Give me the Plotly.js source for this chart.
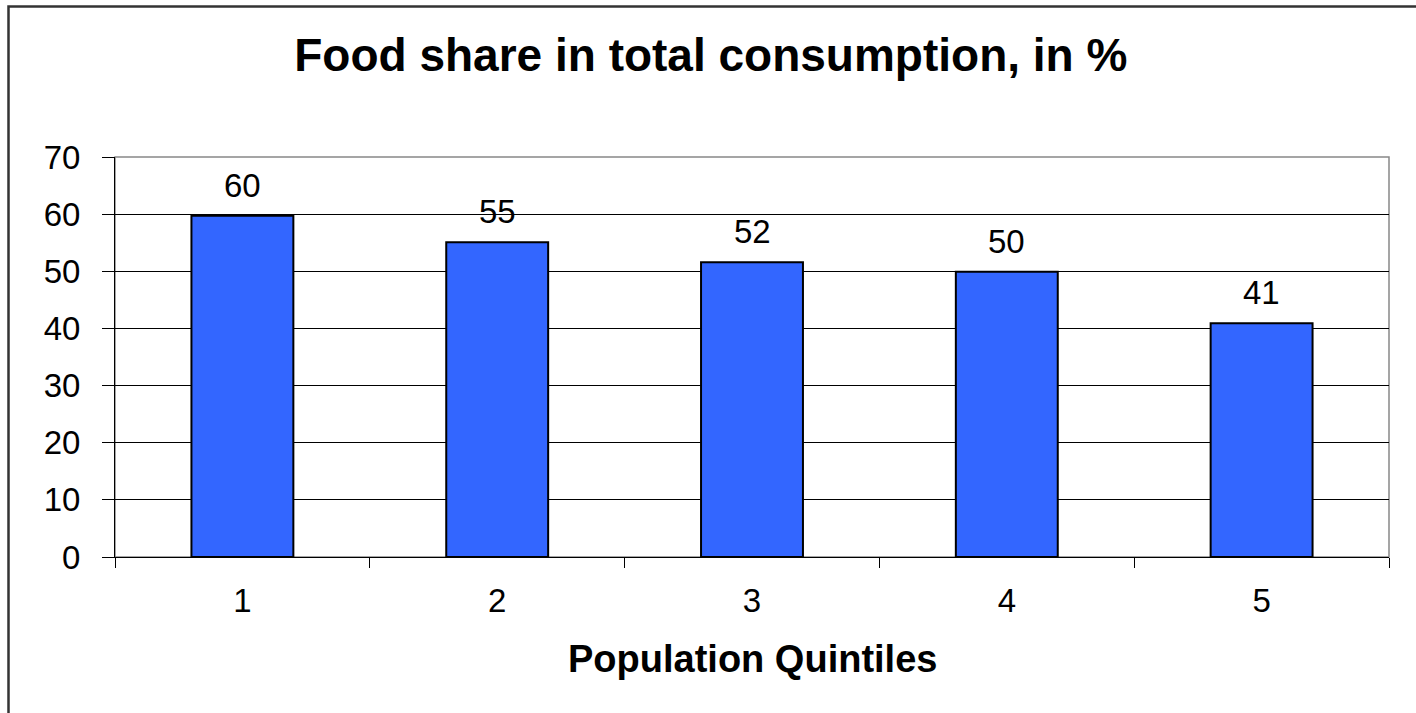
<!DOCTYPE html>
<html>
<head>
<meta charset="utf-8">
<script src="https://cdn.plot.ly/plotly-3.0.1.min.js"></script>
<style>html,body{margin:0;padding:0;background:#fff;}#chart{width:1416px;height:713px;}</style>
</head>
<body>
<div id="chart"></div>
<script>
const categories = ["1", "2", "3", "4", "5"];
const foodShare = [59.7, 55.1, 51.6, 49.9, 40.9];
const valueLabels = ["60", "55", "52", "50", "41"];
const yTicks = [0, 10, 20, 30, 40, 50, 60, 70];
const chartTitle = "Food share in total consumption, in %";
const xTitle = "Population Quintiles";

const font = "Liberation Sans, Arial, sans-serif";

const trace = {
  type: "bar",
  x: categories,
  y: foodShare,
  width: 0.4,
  marker: {color: "#3366FF", line: {color: "#000000", width: 2}},
  hoverinfo: "x+y"
};

const annotations = categories.map((c, i) => ({
  x: i, y: foodShare[i], xref: "x", yref: "y",
  text: valueLabels[i], showarrow: false,
  yanchor: "bottom", yshift: 10,
  font: {family: font, size: 33, color: "#000"}
}));

annotations.push({
  x: 0.5, xref: "paper", xanchor: "center",
  y: (557 - 659) / 400, yref: "paper", yanchor: "middle",
  text: "<b>" + xTitle + "</b>", showarrow: false,
  font: {family: font, size: 38, color: "#000"}
});

const layout = {
  width: 1416, height: 713,
  margin: {l: 115, r: 27, t: 157, b: 156},
  paper_bgcolor: "#ffffff",
  plot_bgcolor: "#ffffff",
  showlegend: false,
  bargap: 0.6,
  title: {
    text: "<b>" + chartTitle + "</b>",
    font: {family: font, size: 46, color: "#000"},
    x: 0.502, xanchor: "center",
    y: 1 - 55/713, yanchor: "middle", yref: "container"
  },
  xaxis: {
    type: "category",
    range: [-0.5, 4.5],
    tickson: "boundaries",
    ticks: "outside", ticklen: 10, tickcolor: "#000", tickwidth: 1,
    showline: true, linecolor: "#000", linewidth: 1,
    showgrid: false, zeroline: false,
    tickfont: {family: font, size: 33, color: "#000"},
    ticklabelstandoff: 14
  },
  yaxis: {
    range: [0, 70],
    tickmode: "array", tickvals: yTicks, ticktext: yTicks.map(String),
    ticks: "outside", ticklen: 12, tickcolor: "#000", tickwidth: 1,
    showline: true, linecolor: "#000", linewidth: 1,
    showgrid: true, gridcolor: "#000", gridwidth: 1,
    zeroline: false,
    tickfont: {family: font, size: 33, color: "#000"},
    ticklabelstandoff: 15
  },
  annotations: annotations,
  shapes: [
    {type: "rect", xref: "paper", yref: "paper", x0: 0, x1: 1, y0: 0, y1: 1,
     line: {color: "#888888", width: 1.5}, fillcolor: "rgba(0,0,0,0)", layer: "below"},
    {type: "rect", xref: "paper", yref: "paper",
     x0: (8.5 - 115) / 1274, x1: (1420 - 115) / 1274,
     y0: -0.5, y1: (557 - 6.5) / 400,
     line: {color: "#333333", width: 2.5}, fillcolor: "rgba(0,0,0,0)"}
  ]
};

Plotly.newPlot("chart", [trace], layout, {displayModeBar: false, staticPlot: true});
</script>
</body>
</html>
